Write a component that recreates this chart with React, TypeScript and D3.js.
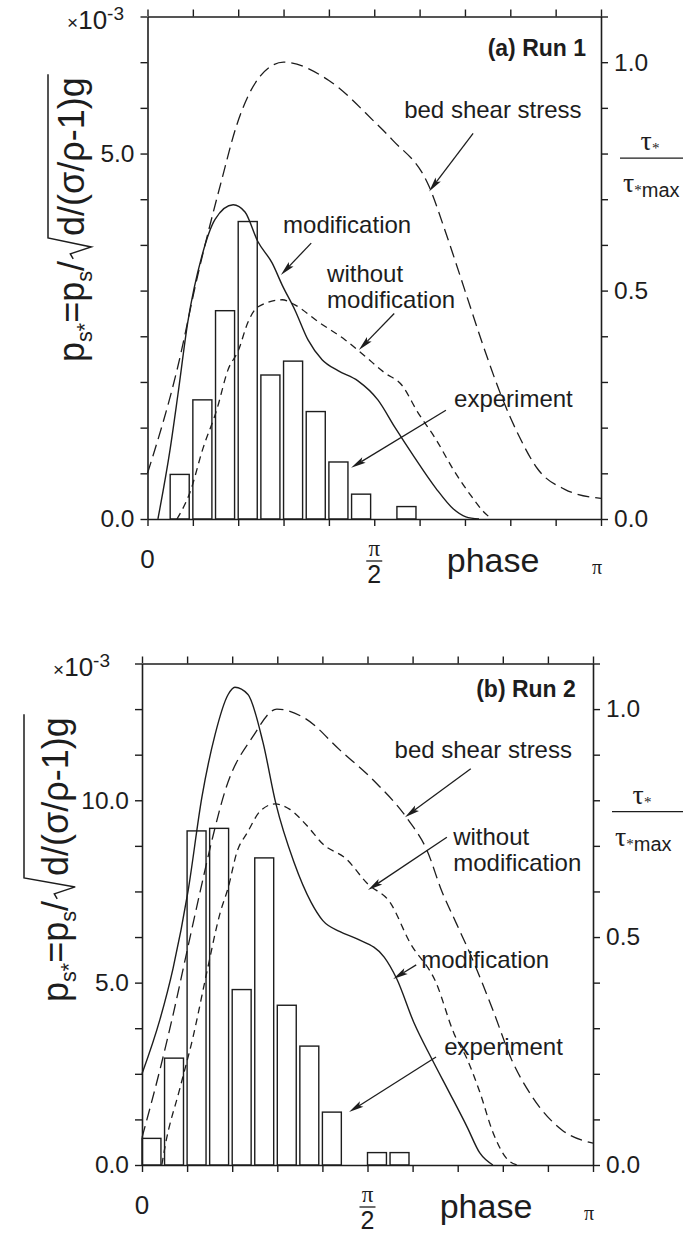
import React, { useEffect, useRef } from "react";
import * as d3 from "d3";

const WIDTH = 683;
const HEIGHT = 1235;
const INK = "#1d1d1d";
const SANS = "'Liberation Sans', Arial, Helvetica, sans-serif";
const SERIF = "'Liberation Serif', 'Times New Roman', serif";

// ---------------- DATA (phase in units of π) ----------------
// Panel (a) Run 1 — experiment histogram (bin start, value ×10^-3)
const expBinA = [0.05, 0.1, 0.15, 0.2, 0.25, 0.3, 0.35, 0.4, 0.45, 0.55];
const expValA = [0.61, 1.63, 2.85, 4.07, 1.97, 2.16, 1.47, 0.78, 0.34, 0.17];
// modification (solid, ×10^-3)
const modPhaseA = [0.023, 0.05, 0.067, 0.089, 0.12, 0.149, 0.189, 0.215, 0.243, 0.275, 0.297, 0.325, 0.354, 0.385, 0.42, 0.464, 0.508, 0.546, 0.588, 0.636, 0.674, 0.702, 0.731];
const modValA = [0, 0.96, 1.7, 2.7, 3.6, 4.1, 4.3, 4.2, 3.8, 3.5, 3.2, 2.86, 2.45, 2.18, 2.03, 1.89, 1.63, 1.25, 0.85, 0.42, 0.14, 0.03, 0];
// without modification (short dash, ×10^-3)
const woPhaseA = [0.065, 0.094, 0.122, 0.153, 0.178, 0.2, 0.222, 0.243, 0.297, 0.325, 0.376, 0.436, 0.479, 0.523, 0.561, 0.596, 0.636, 0.674, 0.712, 0.741, 0.759];
const woValA = [0, 0.37, 0.96, 1.5, 2.05, 2.3, 2.7, 2.9, 3.0, 2.93, 2.7, 2.45, 2.23, 2.0, 1.83, 1.46, 1.09, 0.68, 0.33, 0.1, 0];
// bed shear stress (long dash, τ*/τ*max)
const bedPhaseA = [0, 0.066, 0.11, 0.163, 0.196, 0.249, 0.3, 0.4, 0.5, 0.54, 0.62, 0.66, 0.7, 0.74, 0.78, 0.82, 0.86, 0.92, 1.0];
const bedValA = [0.1, 0.33, 0.53, 0.74, 0.86, 0.97, 1.0, 0.96, 0.87, 0.83, 0.73, 0.62, 0.5, 0.38, 0.27, 0.18, 0.11, 0.065, 0.045];

// Panel (b) Run 2
const expBinB = [0.0, 0.05, 0.1, 0.15, 0.2, 0.25, 0.3, 0.35, 0.4, 0.5, 0.55];
const expValB = [0.73, 2.93, 9.16, 9.23, 4.81, 8.42, 4.38, 3.26, 1.45, 0.34, 0.34];
const modPhaseB = [0, 0.04, 0.069, 0.102, 0.133, 0.162, 0.191, 0.206, 0.235, 0.268, 0.297, 0.337, 0.375, 0.401, 0.439, 0.477, 0.537, 0.565, 0.603, 0.643, 0.681, 0.721, 0.749, 0.778];
const modValB = [2.5, 4.0, 5.4, 7.5, 10.1, 11.8, 12.9, 13.1, 12.9, 11.6, 9.9, 8.3, 7.2, 6.7, 6.4, 6.2, 5.7, 5.1, 3.9, 2.9, 2.0, 1.04, 0.33, 0];
const woPhaseB = [0.044, 0.051, 0.084, 0.113, 0.144, 0.173, 0.191, 0.211, 0.233, 0.262, 0.295, 0.328, 0.366, 0.401, 0.452, 0.501, 0.55, 0.594, 0.652, 0.692, 0.721, 0.749, 0.778, 0.807, 0.831];
const woValB = [0, 0.5, 2.1, 3.5, 5.3, 6.9, 7.6, 8.6, 9.1, 9.7, 9.9, 9.75, 9.3, 8.8, 8.4, 7.7, 7.2, 6.1, 5.0, 3.6, 2.9, 2.0, 0.9, 0.2, 0];
const bedPhaseB = [0, 0.04, 0.069, 0.1, 0.129, 0.157, 0.184, 0.246, 0.299, 0.361, 0.439, 0.517, 0.588, 0.632, 0.665, 0.697, 0.729, 0.778, 0.82, 0.865, 0.931, 1.0];
const bedValB = [0.06, 0.21, 0.33, 0.47, 0.6, 0.72, 0.82, 0.94, 1.0, 0.98, 0.91, 0.84, 0.76, 0.69, 0.6, 0.53, 0.46, 0.34, 0.23, 0.15, 0.077, 0.048];

// Ticks / labels
const phaseTicks = d3.range(0, 11).map((i) => i / 10);
const tauTicks = d3.range(0, 12).map((i) => i / 10);
const tauLabels = [0, 0.5, 1.0];
const leftTicksA = d3.range(0, 12).map((i) => i * 0.625);
const leftLabelsA = [0, 5];
const leftTicksB = d3.range(0, 12).map((i) => i * 1.25);
const leftLabelsB = [0, 5, 10];

type Ann = { p: number; t: number; lines: string[] };
type Arr = { from: [number, number]; to: [number, number] };

const panels = [
  {
    frame: { x0: 147.5, x1: 601, y0: 16.5, y1: 519 },
    leftMax: 6.875,
    leftTicks: leftTicksA,
    leftLabels: leftLabelsA,
    expBin: expBinA, expVal: expValA,
    modP: modPhaseA, modV: modValA,
    woP: woPhaseA, woV: woValA,
    bedP: bedPhaseA, bedV: bedValA,
    run: { p: 0.967, t: 1.013, text: "(a) Run 1" },
    labels: [
      { p: 0.566, t: 0.877, lines: ["bed shear stress"] },
      { p: 0.299, t: 0.625, lines: ["modification"] },
      { p: 0.396, t: 0.518, lines: ["without", "modification"] },
      { p: 0.676, t: 0.245, lines: ["experiment"] },
    ] as Ann[],
    arrows: [
      { from: [0.718, 0.844], to: [0.621, 0.717] },
      { from: [0.361, 0.604], to: [0.294, 0.534] },
      { from: [0.544, 0.45], to: [0.466, 0.37] },
      { from: [0.658, 0.238], to: [0.449, 0.112] },
    ] as Arr[],
    mult: { xEnd: 124 },
    tauFrac: 0.79,
    title: { bx: 84, startY: 362, F: 36, H: 36 },
  },
  {
    frame: { x0: 142, x1: 593, y0: 663.5, y1: 1165 },
    leftMax: 13.75,
    leftTicks: leftTicksB,
    leftLabels: leftLabelsB,
    expBin: expBinB, expVal: expValB,
    modP: modPhaseB, modV: modValB,
    woP: woPhaseB, woV: woValB,
    bedP: bedPhaseB, bedV: bedValB,
    run: { p: 0.962, t: 1.027, text: "(b) Run 2" },
    labels: [
      { p: 0.56, t: 0.893, lines: ["bed shear stress"] },
      { p: 0.69, t: 0.702, lines: ["without", "modification"] },
      { p: 0.619, t: 0.432, lines: ["modification"] },
      { p: 0.67, t: 0.241, lines: ["experiment"] },
    ] as Ann[],
    arrows: [
      { from: [0.729, 0.869], to: [0.583, 0.763] },
      { from: [0.676, 0.719], to: [0.501, 0.603] },
      { from: [0.608, 0.439], to: [0.557, 0.408] },
      { from: [0.652, 0.237], to: [0.459, 0.116] },
    ] as Arr[],
    mult: { xEnd: 110 },
    tauFrac: 0.775,
    title: { bx: 68, startY: 1002, F: 36, H: 44 },
  },
];

function drawArrow(g: any, x1: number, y1: number, x2: number, y2: number) {
  const dx = x2 - x1, dy = y2 - y1;
  const len = Math.hypot(dx, dy);
  const ux = dx / len, uy = dy / len;
  const hl = 15, hw = 3.3;
  const bx = x2 - ux * hl, by = y2 - uy * hl;
  g.append("line")
    .attr("x1", x1).attr("y1", y1)
    .attr("x2", bx + ux * 3).attr("y2", by + uy * 3)
    .attr("stroke", INK).attr("stroke-width", 1.3);
  g.append("path")
    .attr("d", `M${x2},${y2}L${bx - uy * hw},${by + ux * hw}L${bx + ux * 3},${by + uy * 3}L${bx + uy * hw},${by - ux * hw}Z`)
    .attr("fill", INK);
}

function drawTitle(svg: any, T: { bx: number; startY: number; F: number; H: number }) {
  const { bx, startY, F, H } = T;
  const g = svg.append("g").attr("transform", `translate(${bx},${startY}) rotate(-90)`);
  const t1 = g.append("text").attr("x", 0).attr("y", 0)
    .attr("font-size", F).attr("font-family", SANS).attr("fill", INK);
  t1.append("tspan").text("p");
  t1.append("tspan").attr("font-size", F * 0.6).attr("dy", F * 0.22).text("s*");
  t1.append("tspan").attr("dy", -F * 0.22).text("=p");
  t1.append("tspan").attr("font-size", F * 0.6).attr("dy", F * 0.22).text("s");
  t1.append("tspan").attr("dy", -F * 0.22).text("/");
  const L1 = (t1.node() as SVGTextElement).getComputedTextLength();
  const rx = L1 + 2;
  const x2start = rx + 23;
  const t2 = g.append("text").attr("x", x2start).attr("y", 0)
    .attr("font-size", F).attr("font-family", SANS).attr("fill", INK)
    .text("d/(σ/ρ-1)g");
  const L2 = (t2.node() as SVGTextElement).getComputedTextLength();
  g.append("path")
    .attr("d", `M${rx},${-F * 0.3}L${rx + 5},${-F * 0.38}L${rx + 12},${F * 0.2}L${rx + 21},${-H}L${x2start + L2 + 3},${-H}`)
    .attr("fill", "none").attr("stroke", INK).attr("stroke-width", 1.5);
}

function drawPanel(svg: any, P: any) {
  const { x0, x1, y0, y1 } = P.frame;
  const g = svg.append("g");
  const x = d3.scaleLinear().domain([0, 1]).range([x0, x1]);
  const yL = d3.scaleLinear().domain([0, P.leftMax]).range([y1, y0]);
  const yR = d3.scaleLinear().domain([0, 1.1]).range([y1, y0]);

  const styleAxis = (ax: any) => {
    ax.selectAll("path.domain").attr("stroke", INK).attr("stroke-width", 1.6);
    ax.selectAll(".tick line").attr("stroke", INK).attr("stroke-width", 1.4);
    ax.selectAll(".tick text").attr("fill", INK);
    ax.attr("font-family", SANS).attr("font-size", 24.5);
  };

  // Axes
  const axL = g.append("g").attr("transform", `translate(${x0},0)`)
    .call(d3.axisLeft(yL).tickValues(P.leftTicks).tickSize(7).tickSizeOuter(0).tickPadding(6)
      .tickFormat((d: any) => (P.leftLabels.some((v: number) => Math.abs(v - d) < 1e-6) ? d3.format(".1f")(d) : "")));
  styleAxis(axL);
  const axR = g.append("g").attr("transform", `translate(${x1},0)`)
    .call(d3.axisRight(yR).tickValues(tauTicks).tickSize(7).tickSizeOuter(0).tickPadding(6)
      .tickFormat((d: any) => (tauLabels.some((v) => Math.abs(v - d) < 1e-6) ? d3.format(".1f")(d) : "")));
  styleAxis(axR);
  const axT = g.append("g").attr("transform", `translate(0,${y0})`)
    .call(d3.axisTop(x).tickValues(phaseTicks).tickSize(7).tickSizeOuter(0).tickFormat(() => ""));
  styleAxis(axT);
  const axB = g.append("g").attr("transform", `translate(0,${y1})`)
    .call(d3.axisBottom(x).tickValues(phaseTicks).tickSize(7).tickSizeOuter(0).tickFormat(() => ""));
  styleAxis(axB);

  // Bars
  const binW = 0.05;
  g.append("g").selectAll("rect")
    .data(P.expBin.map((b: number, i: number) => ({ b, v: P.expVal[i] })))
    .join("rect")
    .attr("x", (d: any) => x(d.b))
    .attr("width", (d: any) => x(d.b + binW * 0.84) - x(d.b))
    .attr("y", (d: any) => yL(d.v))
    .attr("height", (d: any) => yL(0) - yL(d.v))
    .attr("fill", "none").attr("stroke", INK).attr("stroke-width", 1.4);

  // Curves
  const lineL = d3.line<[number, number]>().x((d) => x(d[0])).y((d) => yL(d[1])).curve(d3.curveMonotoneX);
  const lineR = d3.line<[number, number]>().x((d) => x(d[0])).y((d) => yR(d[1])).curve(d3.curveMonotoneX);
  const zip = (a: number[], b: number[]) => a.map((v, i) => [v, b[i]] as [number, number]);
  g.append("path").attr("d", lineR(zip(P.bedP, P.bedV)))
    .attr("fill", "none").attr("stroke", INK).attr("stroke-width", 1.3).attr("stroke-dasharray", "12,6");
  g.append("path").attr("d", lineL(zip(P.woP, P.woV)))
    .attr("fill", "none").attr("stroke", INK).attr("stroke-width", 1.3).attr("stroke-dasharray", "7,5");
  g.append("path").attr("d", lineL(zip(P.modP, P.modV)))
    .attr("fill", "none").attr("stroke", INK).attr("stroke-width", 1.4);

  // Annotations
  const ann = g.append("g").attr("font-family", SANS).attr("fill", INK);
  ann.append("text").attr("x", x(P.run.p)).attr("y", yR(P.run.t))
    .attr("text-anchor", "end").attr("font-size", 23).attr("font-weight", "bold").text(P.run.text);
  P.labels.forEach((L: Ann) => {
    L.lines.forEach((s, i) => {
      ann.append("text").attr("x", x(L.p)).attr("y", yR(L.t) + i * 26)
        .attr("font-size", 24).text(s);
    });
  });
  P.arrows.forEach((A: Arr) => {
    drawArrow(g, x(A.from[0]), yR(A.from[1]), x(A.to[0]), yR(A.to[1]));
  });

  // ×10^-3
  const m = g.append("text").attr("x", P.mult.xEnd).attr("y", y0 + 12)
    .attr("text-anchor", "end").attr("font-family", SANS).attr("fill", INK).attr("font-size", 26);
  m.append("tspan").attr("font-size", 19).text("×");
  m.append("tspan").text("10");
  m.append("tspan").attr("font-size", 19).attr("dy", -9).text("-3");

  // τ*/τ*max
  const fy = yR(P.tauFrac);
  g.append("line").attr("x1", x1 + 19).attr("x2", WIDTH).attr("y1", fy).attr("y2", fy)
    .attr("stroke", INK).attr("stroke-width", 1.3);
  const tn = g.append("text").attr("x", x1 + 49).attr("y", fy - 8).attr("text-anchor", "middle")
    .attr("font-family", SERIF).attr("font-size", 28).attr("fill", INK);
  tn.append("tspan").text("τ");
  tn.append("tspan").attr("font-size", 15).attr("dy", 3).text("*");
  const td = g.append("text").attr("x", x1 + 22).attr("y", fy + 34)
    .attr("font-family", SERIF).attr("font-size", 28).attr("fill", INK);
  td.append("tspan").text("τ");
  td.append("tspan").attr("font-size", 15).attr("dy", 3).text("*");
  td.append("tspan").attr("font-family", SANS).attr("font-size", 20).attr("dy", 2).text("max");

  // x-axis labels
  const xl = g.append("g").attr("fill", INK);
  xl.append("text").attr("x", x(0)).attr("y", y1 + 49).attr("text-anchor", "middle")
    .attr("font-family", SANS).attr("font-size", 26).text("0");
  xl.append("text").attr("x", x(0.5)).attr("y", y1 + 37).attr("text-anchor", "middle")
    .attr("font-family", SERIF).attr("font-size", 23).text("π");
  xl.append("line").attr("x1", x(0.5) - 8).attr("x2", x(0.5) + 8).attr("y1", y1 + 42).attr("y2", y1 + 42)
    .attr("stroke", INK).attr("stroke-width", 1.3);
  xl.append("text").attr("x", x(0.5)).attr("y", y1 + 64).attr("text-anchor", "middle")
    .attr("font-family", SANS).attr("font-size", 25).text("2");
  xl.append("text").attr("x", x(0.66)).attr("y", y1 + 53)
    .attr("font-family", SANS).attr("font-size", 34).text("phase");
  xl.append("text").attr("x", x(1) - 4).attr("y", y1 + 55).attr("text-anchor", "middle")
    .attr("font-family", SERIF).attr("font-size", 20).text("π");

  drawTitle(svg, P.title);
}

export default function App() {
  const ref = useRef<SVGSVGElement | null>(null);
  useEffect(() => {
    document.body.style.margin = "0";
    const svg = d3.select(ref.current);
    svg.selectAll("*").remove();
    svg.append("rect").attr("width", WIDTH).attr("height", HEIGHT).attr("fill", "#fff");
    panels.forEach((P) => drawPanel(svg, P));
  }, []);
  return (
    <div style={{ position: "absolute", left: 0, top: 0, width: WIDTH, height: HEIGHT, background: "#fff" }}>
      <svg ref={ref} width={WIDTH} height={HEIGHT} viewBox={`0 0 ${WIDTH} ${HEIGHT}`} />
    </div>
  );
}
